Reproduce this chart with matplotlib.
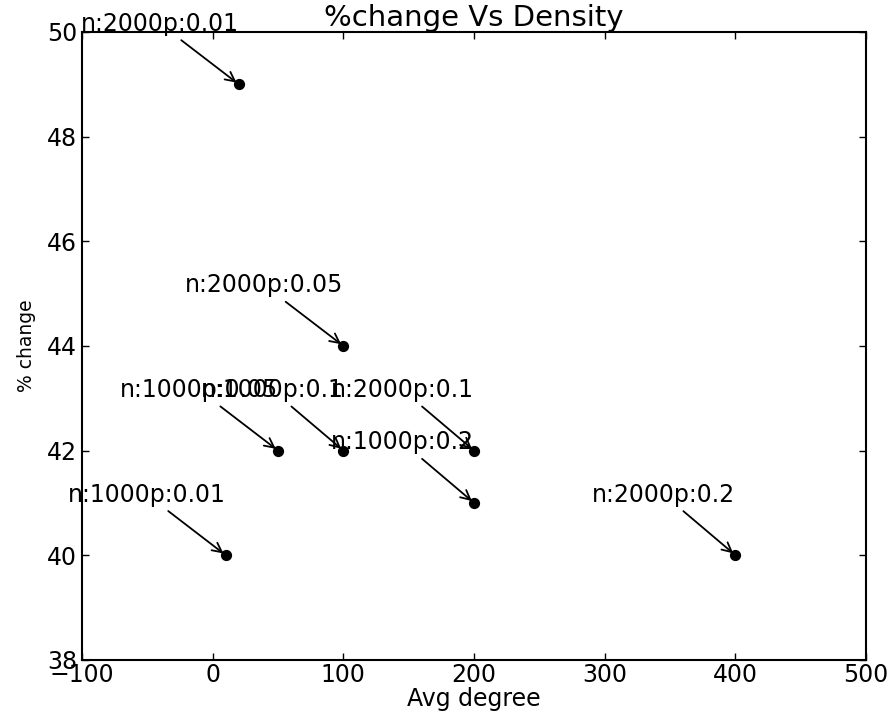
import matplotlib
matplotlib.use("Agg")
import matplotlib.pyplot as plt

# data
avg_degree = [20, 100, 50, 100, 200, 200, 10, 400]
pct_change = [49, 44, 42, 42, 42, 41, 40, 40]
labels = ["n:2000p:0.01", "n:2000p:0.05", "n:1000p:0.05", "n:1000p:0.1",
          "n:2000p:0.1", "n:1000p:0.2", "n:1000p:0.01", "n:2000p:0.2"]

plt.rcParams["font.family"] = "DejaVu Sans"
plt.rcParams["xtick.direction"] = "in"
plt.rcParams["ytick.direction"] = "in"
plt.rcParams["xtick.top"] = True
plt.rcParams["ytick.right"] = True

fig, ax = plt.subplots(figsize=(8.91, 7.11), dpi=100)
fig.subplots_adjust(left=0.092, right=0.972, top=0.955, bottom=0.072)

ax.scatter(avg_degree, pct_change, s=50, c="black", zorder=3)

# labels sit above the point, right edge aligned with it
for x, y, lab in zip(avg_degree, pct_change, labels):
    ax.annotate(lab, xy=(x, y), xytext=(0, 35), textcoords="offset points",
                ha="right", va="bottom", fontsize=17,
                arrowprops=dict(arrowstyle="->", color="black", lw=1.3))

ax.set_xlim(-100, 500)
ax.set_ylim(38, 50)
ax.tick_params(labelsize=17, length=5, width=1)
ax.tick_params(axis="x", pad=2)
for sp in ax.spines.values():
    sp.set_linewidth(1.5)

ax.set_title("%change Vs Density", fontsize=21, pad=3)
ax.set_xlabel("Avg degree", fontsize=17, labelpad=0)
ax.set_ylabel("% change", fontsize=13.5, labelpad=8)

fig.savefig("out.png", dpi=100, facecolor="white")
